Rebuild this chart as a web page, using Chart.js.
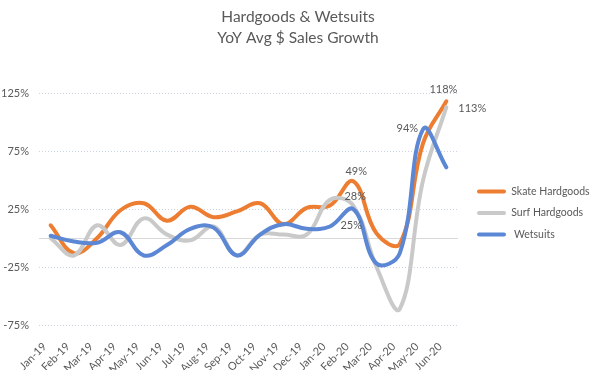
<!DOCTYPE html>
<html>
<head>
<meta charset="utf-8">
<script src="https://cdn.jsdelivr.net/npm/chart.js@4.4.0/dist/chart.umd.min.js"></script>
<style>
  html, body { margin: 0; padding: 0; background: #fff; }
  #wrap { width: 596px; height: 370px; position: relative; }
</style>
</head>
<body>
<div id="wrap"><canvas id="chart"></canvas></div>
<script>
// ── Data ─────────────────────────────────────────────────────────────
const months = ['Jan-19','Feb-19','Mar-19','Apr-19','May-19','Jun-19','Jul-19','Aug-19','Sep-19',
                'Oct-19','Nov-19','Dec-19','Jan-20','Feb-20','Mar-20','Apr-20','May-20','Jun-20'];
const skateHardgoods = [11, -13, 0, 24, 30, 15, 27, 18, 23, 30, 12, 26, 28, 49, 4, -5, 82, 118];
const surfHardgoods  = [0, -15, 11, -6, 17, 3, -2, 10, -15, 3, 3, 3, 33, 28, -25, -61, 50, 113];
const wetsuits       = [2, -3, -4, 5, -15, -6, 8, 9, -15, 3, 12, 8, 10, 25, -22, -13, 94, 61];
const yTicks = [-75, -25, 25, 75, 125];

const GREY_TEXT = '#595959';
Chart.defaults.font.family = 'Lato, "Open Sans", sans-serif';
Chart.defaults.color = GREY_TEXT;

// solid line where the category axis crosses (0%)
const zeroLine = {
  id: 'zeroLine',
  beforeDatasetsDraw(chart) {
    const { ctx, chartArea, scales } = chart;
    const y = Math.round(scales.y.getPixelForValue(0)) + 0.5;
    ctx.save();
    ctx.strokeStyle = '#d9d9d9';
    ctx.lineWidth = 1;
    ctx.beginPath();
    ctx.moveTo(chartArea.left, y);
    ctx.lineTo(chartArea.right, y);
    ctx.stroke();
    ctx.restore();
  }
};

// value labels on a few points
const pointLabels = {
  id: 'pointLabels',
  afterDatasetsDraw(chart, args, opts) {
    const ctx = chart.ctx;
    ctx.save();
    ctx.font = '11px ' + Chart.defaults.font.family;
    ctx.fillStyle = GREY_TEXT;
    ctx.textBaseline = 'middle';
    opts.items.forEach(([ds, i, align, dx, dy]) => {
      const pt = chart.getDatasetMeta(ds).data[i];
      const v = chart.data.datasets[ds].data[i];
      ctx.textAlign = align;
      ctx.fillText(v + '%', pt.x + dx, pt.y + dy);
    });
    ctx.restore();
  }
};

function series(label, data, color, order) {
  return {
    label, data, order,
    borderColor: color, backgroundColor: color,
    borderWidth: 4, tension: 0.4, pointRadius: 0, pointHoverRadius: 0,
    borderCapStyle: 'round', borderJoinStyle: 'round', fill: false, clip: false
  };
}

new Chart(document.getElementById('chart'), {
  type: 'line',
  data: {
    labels: months,
    datasets: [
      series('Skate Hardgoods', skateHardgoods, '#ed7d31', 3),
      series('Surf Hardgoods', surfHardgoods, '#c9c9c9', 2),
      series(' Wetsuits', wetsuits, '#5b87d4', 1),
    ]
  },
  options: {
    responsive: true,
    maintainAspectRatio: false,
    animation: false,
    layout: { padding: 0 },
    plugins: {
      title: {
        display: true,
        text: ['Hardgoods & Wetsuits', 'YoY Avg $ Sales Growth'],
        color: GREY_TEXT,
        font: { size: 15.5, weight: 'normal', lineHeight: 1.36 },
        padding: { top: 6, bottom: 45 }
      },
      legend: {
        position: 'right',
        align: 'center',
        maxWidth: 130,
        // empty title only pushes the entries down to sit beside the plot
        title: { display: true, text: '', padding: { top: 56, bottom: 0 }, font: { size: 0 } },
        labels: {
          boxWidth: 29, boxHeight: 4, padding: 11, useBorderRadius: true, borderRadius: 2,
          color: GREY_TEXT, font: { size: 10.5 },
          sort: (a, b) => a.datasetIndex - b.datasetIndex,
          generateLabels: chart => Chart.defaults.plugins.legend.labels.generateLabels(chart)
            .map(l => ({ ...l, fillStyle: l.strokeStyle, lineWidth: 0 }))
        }
      },
      tooltip: { enabled: false },
      pointLabels: {
        items: [
          [0, 13, 'center', 3, -10],
          [0, 17, 'center', -3, -12],
          [1, 13, 'center', 2, -9],
          [1, 17, 'left', 12, 1],
          [2, 16, 'right', -5, -1],
          [2, 13, 'center', -2, 16],
        ]
      }
    },
    scales: {
      x: {
        offset: true,
        grid: { display: false },
        border: { display: false },
        ticks: { autoSkip: false, maxRotation: 45, minRotation: 45, padding: 7, labelOffset: -6,
                 color: GREY_TEXT, font: { size: 11 } },
        afterFit: s => { s.height = 45; }
      },
      y: {
        min: -75, max: 125,
        afterBuildTicks: s => { s.ticks = yTicks.map(v => ({ value: v })); },
        grid: { color: '#c9d4e6', drawTicks: false },
        border: { display: false, dash: [1, 2] },
        ticks: { padding: 10, color: GREY_TEXT, font: { size: 11 }, callback: v => v + '%' },
        afterFit: s => { s.width = 39; }
      },
      pad: {
        position: 'right',
        grid: { display: false },
        border: { display: false },
        ticks: { display: false },
        afterFit: s => { s.width = 8; }
      }
    }
  },
  plugins: [zeroLine, pointLabels]
});
</script>
</body>
</html>
